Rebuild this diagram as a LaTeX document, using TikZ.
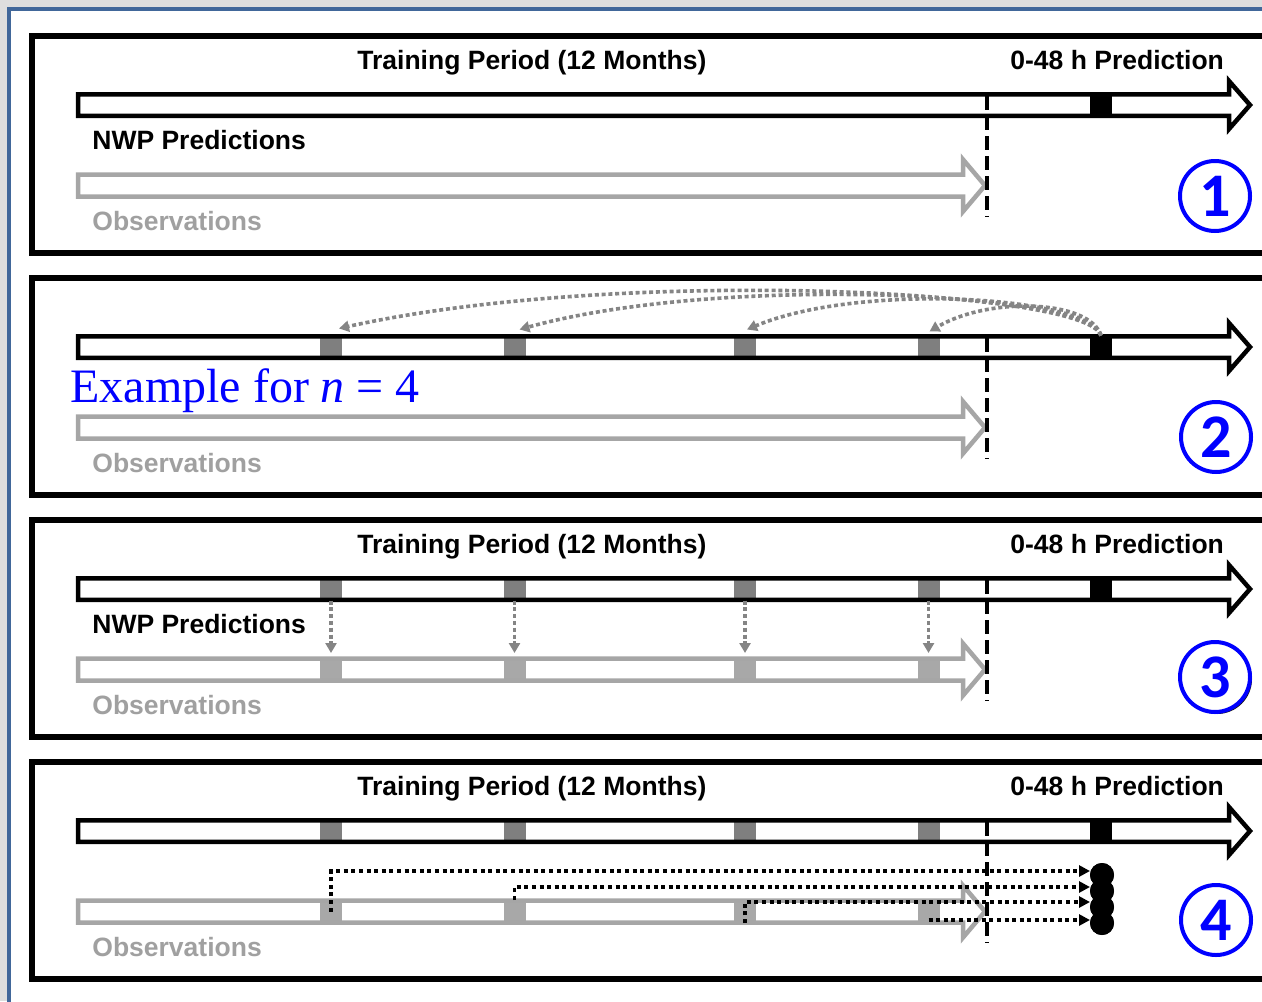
\documentclass[tikz,border=0pt]{standalone}
\usepackage{fontspec}
\setmainfont{Liberation Sans}
\newfontfamily\exfont{Liberation Serif}
\newfontfamily\numfont{Carlito}
\usetikzlibrary{arrows.meta,shadows}
\definecolor{bggrey}{HTML}{DEDEDE}
\definecolor{framebl}{HTML}{41679A}
\definecolor{obsgrey}{HTML}{A6A6A6}
\definecolor{obstext}{HTML}{A0A0A0}
\definecolor{darksq}{HTML}{7F7F7F}
\definecolor{lightsq}{HTML}{A8A8A8}
\definecolor{arcgrey}{HTML}{858585}
\definecolor{numblue}{HTML}{0000FF}
\newcommand\NWParrow[1]{(78,{#1-10.75}) -- (1229,{#1-10.75}) -- (1229,{#1-24}) -- (1250,#1) -- (1229,{#1+24}) -- (1229,{#1+10.75}) -- (78,{#1+10.75}) -- cycle}
\newcommand\OBSarrow[1]{(78,{#1-11}) -- (963,{#1-11}) -- (963,{#1-26}) -- (985,#1) -- (963,{#1+26}) -- (963,{#1+11}) -- (78,{#1+11}) -- cycle}
\tikzset{
  panel/.style={draw=black, line width=3pt},
  nwpline/.style={draw=black, line width=2.25pt, line join=miter},
  obsline/.style={draw=obsgrey, line width=2.25pt, line join=miter},
  cutline/.style={draw=black, line width=2pt, dash pattern=on 7pt off 3pt},
  dksq/.style={fill=darksq, minimum width=11pt, minimum height=11.5pt, inner sep=0pt, outer sep=0pt},
  ltsq/.style={fill=lightsq, minimum width=11pt, minimum height=11.5pt, inner sep=0pt, outer sep=0pt},
  bksq/.style={fill=black, minimum width=11pt, minimum height=11.5pt, inner sep=0pt, outer sep=0pt},
  lbl/.style={anchor=base west, inner sep=0pt, font=\bfseries\fontsize{13.25}{15}\selectfont},
  obslbl/.style={lbl, text=obstext},
  circ/.style={circle, draw=numblue, line width=2pt, minimum size=35pt, inner sep=0pt, fill=white, text=numblue, font=\numfont\bfseries\fontsize{31}{31}\selectfont},
  arcst/.style={draw=arcgrey, line width=1.8pt, dash pattern=on 2pt off 1.4pt, -{Triangle[length=5pt,width=5.5pt]}},
  blkdot/.style={draw=black, line width=1.8pt, dash pattern=on 2pt off 1.8pt, -{Triangle[length=5.5pt,width=5.5pt]}},
  endpt/.style={circle, fill=black, minimum size=12pt, inner sep=0pt, outer sep=0pt}
}
\begin{document}
\begin{tikzpicture}[x=0.5pt, y=-0.5pt]
\useasboundingbox (0,0) rectangle (1262,1001);
\clip (0,0) rectangle (1262,1001);
% background and frame
\fill[bggrey] (0,0) rectangle (1262,1001);
\fill[white] (9,9) rectangle (1270,1010);
\draw[framebl, line width=2pt] (9,1010) -- (9,9) -- (1270,9);
% panel frames
\draw[panel] (32,36) rectangle (1300,253);
\draw[panel] (32,278) rectangle (1300,495);
\draw[panel] (32,520) rectangle (1300,737);
\draw[panel] (32,762) rectangle (1300,979);

% ---------- Panel 1 ----------
\path[fill=white] \NWParrow{105};
\node[bksq] (b1) at (1101,105) {};
\draw[nwpline] \NWParrow{105};
\draw[obsline, fill=white] \OBSarrow{185.5};
\draw[cutline] (987,96) -- (987,217);
\node[lbl] (tp1) at (357,69) {Training Period (12 Months)};
\node[lbl] (pr1) at (1010,69) {0-48 h Prediction};
\node[lbl] (nwp1) at (92,149) {NWP Predictions};
\node[obslbl] (obs1) at (92,230) {Observations};
\node[circ] (c1) at (1215,196) {1};

% ---------- Panel 2 ----------
\path[fill=white] \NWParrow{347};
\node[dksq] (s2a) at (331,347) {};
\node[dksq] (s2b) at (514.5,347) {};
\node[dksq] (s2c) at (745,347) {};
\node[dksq] (s2d) at (928.5,347) {};
\node[bksq] (b2) at (1101,347) {};
\draw[nwpline] \NWParrow{347};
\draw[obsline, fill=white] \OBSarrow{427.5};
\draw[cutline] (987,338) -- (987,459);
\draw[arcst] (b2.north) .. controls (1088,290) and (620,266) .. ([xshift=4pt,yshift=3.5pt]s2a.north);
\draw[arcst] (b2.north) .. controls (1088,292) and (720,274) .. ([xshift=2.5pt,yshift=3pt]s2b.north);
\draw[arcst] (b2.north) .. controls (1088,296) and (860,282) .. ([xshift=1pt,yshift=3pt]s2c.north);
\draw[arcst] (b2.north) .. controls (1090,300) and (990,296) .. ([xshift=0.5pt,yshift=2pt]s2d.north);
\node[anchor=base west, inner sep=0pt, text=numblue, font=\exfont\fontsize{24}{26}\selectfont] (ex) at (70,402) {Example for \textit{n} = 4};
\node[obslbl] (obs2) at (92,472) {Observations};
\node[circ] (c2) at (1216,437) {2};

% ---------- Panel 3 ----------
\path[fill=white] \NWParrow{589};
\node[dksq] (s3a) at (331,589) {};
\node[dksq] (s3b) at (514.5,589) {};
\node[dksq] (s3c) at (745,589) {};
\node[dksq] (s3d) at (928.5,589) {};
\node[bksq] (b3) at (1101,589) {};
\draw[nwpline] \NWParrow{589};
\path[fill=white] \OBSarrow{669.5};
\node[ltsq] (o3a) at (331,669.5) {};
\node[ltsq] (o3b) at (514.5,669.5) {};
\node[ltsq] (o3c) at (745,669.5) {};
\node[ltsq] (o3d) at (928.5,669.5) {};
\draw[obsline] \OBSarrow{669.5};
\draw[cutline] (987,580) -- (987,701);
\foreach \k in {a,b,c,d}{
  \draw[arcst, shorten >=2.5pt] (s3\k.south) -- (o3\k.north);
}
\node[lbl] (tp3) at (357,553) {Training Period (12 Months)};
\node[lbl] (pr3) at (1010,553) {0-48 h Prediction};
\node[lbl] (nwp3) at (92,633) {NWP Predictions};
\node[obslbl] (obs3) at (92,714) {Observations};
\node[circ, drop shadow={shadow xshift=1pt, shadow yshift=-1pt, opacity=0.9, fill=black}] (c3) at (1215,677) {3};

% ---------- Panel 4 ----------
\path[fill=white] \NWParrow{831};
\node[dksq] (s4a) at (331,831) {};
\node[dksq] (s4b) at (514.5,831) {};
\node[dksq] (s4c) at (745,831) {};
\node[dksq] (s4d) at (928.5,831) {};
\node[bksq] (b4) at (1101,831) {};
\draw[nwpline] \NWParrow{831};
\path[fill=white] \OBSarrow{911.5};
\node[ltsq] (o4a) at (331,911.5) {};
\node[ltsq] (o4b) at (514.5,911.5) {};
\node[ltsq] (o4c) at (745,911.5) {};
\node[ltsq] (o4d) at (928.5,911.5) {};
\draw[obsline] \OBSarrow{911.5};
\draw[cutline] (987,822) -- (987,943);
\node[endpt] (d1) at (1102,875) {};
\node[endpt] (d2) at (1102,891) {};
\node[endpt] (d3) at (1102,907) {};
\node[endpt] (d4) at (1102,923) {};
\draw[blkdot] (o4a.center) |- ([yshift=2pt]d1.west);
\draw[blkdot] (o4b.north) |- ([yshift=2pt]d2.west);
\draw[blkdot] (o4c.south) |- ([yshift=2.5pt]d3.west);
\draw[blkdot] ([yshift=1.5pt]o4d.south) -- ([yshift=1.5pt]d4.west);
\foreach \k in {1,2,3,4}{ \fill[black] (d\k.center) circle[radius=6pt]; }
\node[lbl] (tp4) at (357,795) {Training Period (12 Months)};
\node[lbl] (pr4) at (1010,795) {0-48 h Prediction};
\node[obslbl] (obs4) at (92,956) {Observations};
\node[circ] (c4) at (1216,920) {4};
\end{tikzpicture}
\end{document}
